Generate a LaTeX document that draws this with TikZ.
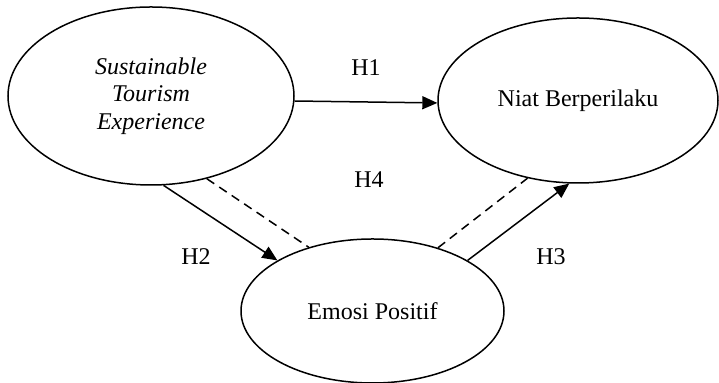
\documentclass[tikz,border=0pt]{standalone}
\usepackage{fontspec}
\setmainfont{Liberation Serif}
\usetikzlibrary{shapes.geometric,arrows.meta}
\begin{document}
\begin{tikzpicture}[x=0.5pt,y=-0.5pt,font=\fontsize{12}{13.8}\selectfont,
latent/.style={draw,ellipse,line width=0.75pt,inner sep=0pt,align=center},
jalur/.style={line width=0.75pt,-{Triangle[length=7.5pt,width=6.5pt]}},
putus/.style={line width=0.75pt,dash pattern=on 4.5pt off 3pt}]
\pgfmathsetmacro{\stx}{151}
\pgfmathsetmacro{\sty}{96}
\useasboundingbox (0,0) rectangle (719,383);
\node[latent,minimum width=143pt,minimum height=89pt,font=\fontsize{12}{13.8}\selectfont\itshape] (ste) at (\stx,\sty) {Sustainable\\Tourism\\Experience};
\node[latent,minimum width=140pt,minimum height=82.5pt] (niat) at (578,100.5) {Niat Berperilaku};
\node[latent,minimum width=131.5pt,minimum height=72pt] (emosi) at (372.5,311) {Emosi Positif};
\node (h1) at (366,68) {H1};
\node (h4) at (369,180) {H4};
\node (h2) at (196,257) {H2};
\node (h3) at (551,257) {H3};
\draw[jalur] (ste.-2.4) -- (niat.-179.4);
\draw[jalur] (ste.-82.1) -- (emosi.152.6);
\draw[jalur] (emosi.28.4) -- (niat.-96.7);
\draw[putus] (ste.-56.3) -- (emosi.135.7);
\draw[putus] (emosi.44.8) -- (niat.-123);
\end{tikzpicture}
\end{document}
